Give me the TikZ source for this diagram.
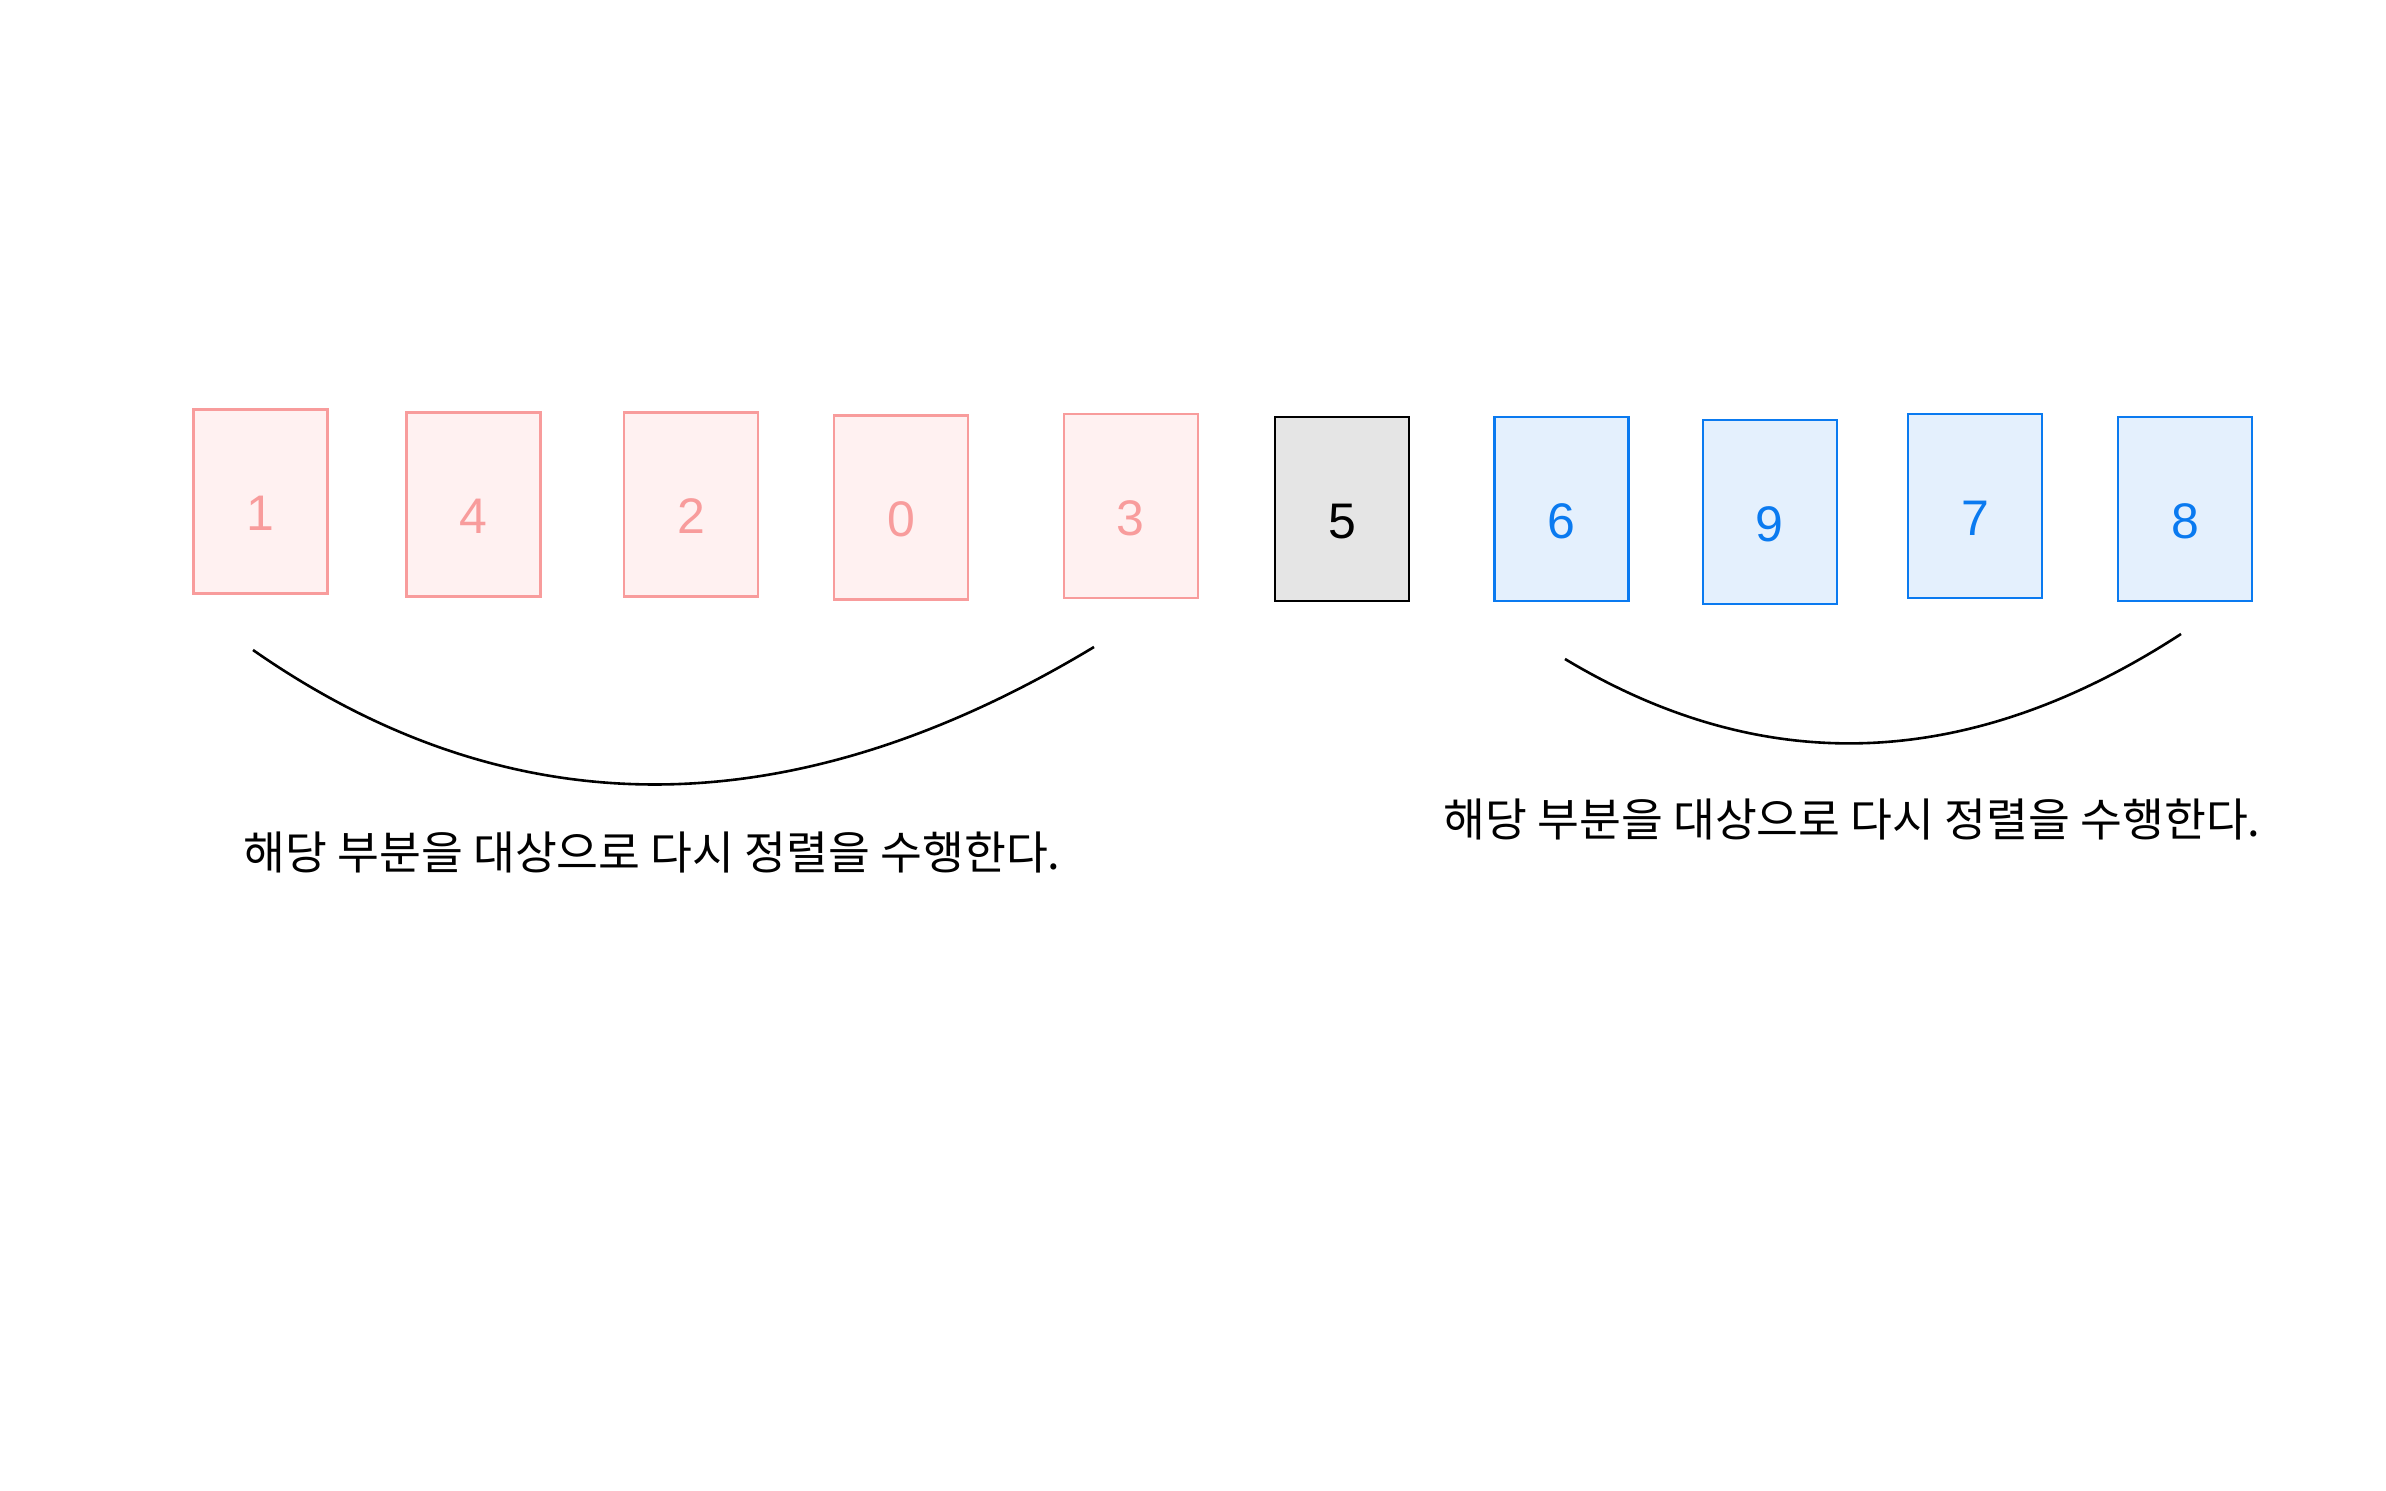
\documentclass[tikz,border=0pt]{standalone}
\usepackage{fontspec}
\setmainfont{Liberation Sans}
\newfontfamily\krfont{Noto Sans CJK KR}
\definecolor{pinkline}{HTML}{F89C9C}
\definecolor{pinkfill}{HTML}{FFF1F1}
\definecolor{blueline}{HTML}{0A7AF0}
\definecolor{bluefill}{HTML}{E4F0FD}
\definecolor{grayfill}{HTML}{E5E5E5}
\newcommand{\dg}[1]{\raisebox{0pt}[\dimexpr\height+24pt\relax][0pt]{#1}}
\tikzset{
  card/.style={draw, line width=2.4pt, minimum width=134pt, minimum height=184pt, inner sep=0pt, font=\fontsize{50}{60}\selectfont},
  pinkcard/.style={card, draw=pinkline, fill=pinkfill, text=pinkline},
  bluecard/.style={card, draw=blueline, fill=bluefill, text=blueline},
  pivotcard/.style={card, draw=black, fill=grayfill, text=black},
  arc/.style={draw=black, line width=2.6pt},
  note/.style={font=\krfont\fontsize{45.5}{54}\selectfont, inner sep=0pt}
}
\begin{document}
\begin{tikzpicture}[x=1pt,y=-1pt]
\useasboundingbox[fill=white] (0,0) rectangle (2386,1491);
\node[pinkcard] (c1) at (260.3,501.4) {\dg{1}};
\node[pinkcard] (c4) at (473.3,504.5) {\dg{4}};
\node[pinkcard] (c2) at (690.9,504.5) {\dg{2}};
\node[pinkcard] (c0) at (900.9,507.5) {\dg{0}};
\node[pinkcard] (c3) at (1130.7,506) {\dg{3}};
\node[pivotcard] (c5) at (1342.2,509) {\dg{5}};
\node[bluecard] (c6) at (1561.3,509) {\dg{6}};
\node[bluecard] (c9) at (1769.8,512) {\dg{9}};
\node[bluecard] (c7) at (1975.2,506) {\dg{7}};
\node[bluecard] (c8) at (2185.2,509) {\dg{8}};
\coordinate (la) at (253,650);
\coordinate (lc1) at (511.3,830.3);
\coordinate (lc2) at (791.7,829.3);
\coordinate (lb) at (1094,647);
\coordinate (ra) at (1565,659);
\coordinate (rc1) at (1765,779.3);
\coordinate (rc2) at (1970.3,771);
\coordinate (rb) at (2181,634);
\draw[arc] (la) .. controls (lc1) and (lc2) .. (lb);
\draw[arc] (ra) .. controls (rc1) and (rc2) .. (rb);
\node[note] (tl) at (652,852) {해당 부분을 대상으로 다시 정렬을 수행한다.};
\node[note] (tr) at (1852,819) {해당 부분을 대상으로 다시 정렬을 수행한다.};
\end{tikzpicture}
\end{document}
